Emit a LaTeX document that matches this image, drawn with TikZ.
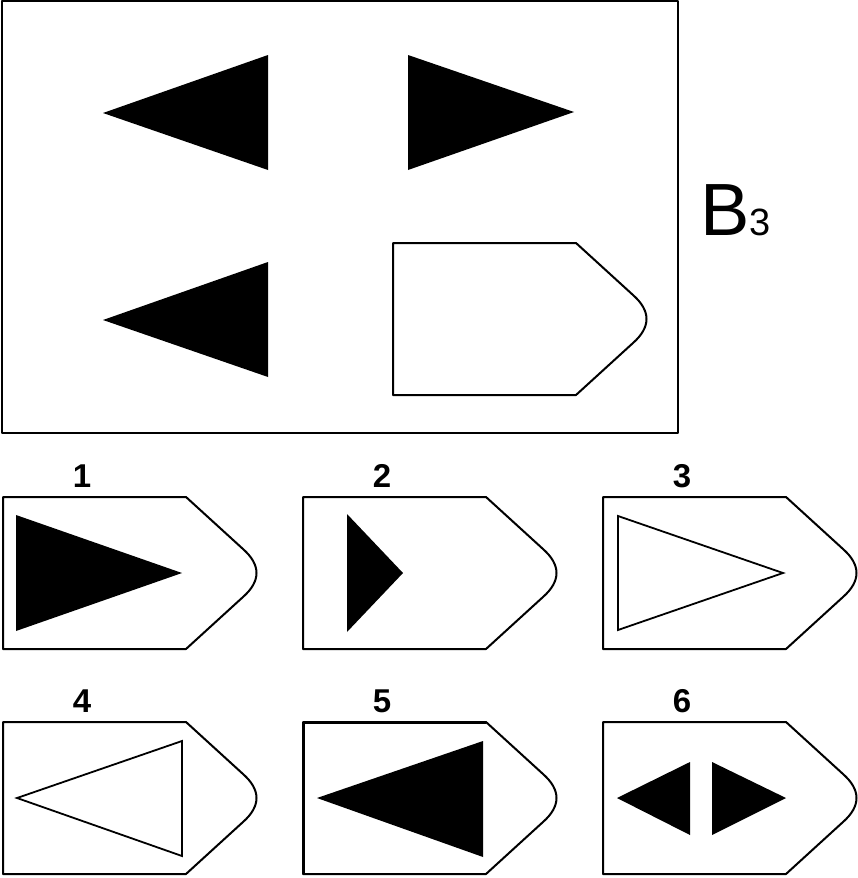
\documentclass[tikz,border=0pt]{standalone}
\usepackage{fontspec}
\setmainfont{Liberation Sans}
\tikzset{
	% the pointed tab, origin at its top left corner
	tab/.pic={
		\draw[line width=2pt, fill=white]
		(0,0) -- (183,0) -- (240,52)
		.. controls (258,68) and (258,84) .. (240,100)
		-- (183,152) -- (0,152) -- cycle;
	},
	num/.style={font=\fontsize{33}{33}\selectfont\bfseries, anchor=base, inner sep=0pt},
	solid tri/.style={fill=black},
	open tri/.style={draw, line width=1.8pt, line join=miter},
}
\begin{document}
\begin{tikzpicture}[x=1pt, y=-1pt, line join=round]
	\useasboundingbox (0,0) rectangle (858,878);
	
	% 1. Khung lớn
	\draw[line width=2pt] (2,1) rectangle (678,433);
	
	% 2. Ba tam giác đen
	\fill[solid tri] (103,113) -- (268,55) -- (268,170) -- cycle;
	\fill[solid tri] (408,55) -- (408,170) -- (574,112) -- cycle;
	\fill[solid tri] (103,320) -- (268,262) -- (268,377) -- cycle;
	
	% 3. Ô trống
	\pic at (393,243) {tab};
	
	% 4. Nhãn B3
	\node[anchor=base west, inner sep=0pt, font=\fontsize{74}{74}\selectfont] (lbl)
	at (700,235) {B{\fontsize{38}{38}\selectfont 3}};
	
	% 5. Các phương án
	\foreach \i/\x/\y in {1/3/497, 2/303/497, 3/603/497, 4/3/722, 5/303/722, 6/603/722} {
		\pic at (\x,\y) {tab};
		\node[num] (n\i) at (\x+79,\y-10) {\i};
	}
	\draw[line width=3pt] (303,722) -- (486,722) (303,722) -- (303,874);
	
	% 6. Hình bên trong
	\begin{scope}[shift={(3,497)}]
		\fill[solid tri] (13,18) -- (13,134) -- (179,76) -- cycle;
	\end{scope}
	\begin{scope}[shift={(303,497)}]
		\fill[solid tri] (44,17) -- (44,135) -- (100,76) -- cycle;
	\end{scope}
	\begin{scope}[shift={(603,497)}]
		\draw[open tri] (15,19) -- (15,133) -- (180,76) -- cycle;
	\end{scope}
	\begin{scope}[shift={(3,722)}]
		\draw[open tri] (14,76) -- (179,19) -- (179,134) -- cycle;
	\end{scope}
	\begin{scope}[shift={(303,722)}]
		\fill[solid tri] (14,76) -- (180,19) -- (180,135) -- cycle;
	\end{scope}
	\begin{scope}[shift={(603,722)}]
		\fill[solid tri] (14,76) -- (87,40) -- (87,113) -- cycle;
		\fill[solid tri] (109,40) -- (109,113) -- (183,76) -- cycle;
	\end{scope}
\end{tikzpicture}
\end{document}
